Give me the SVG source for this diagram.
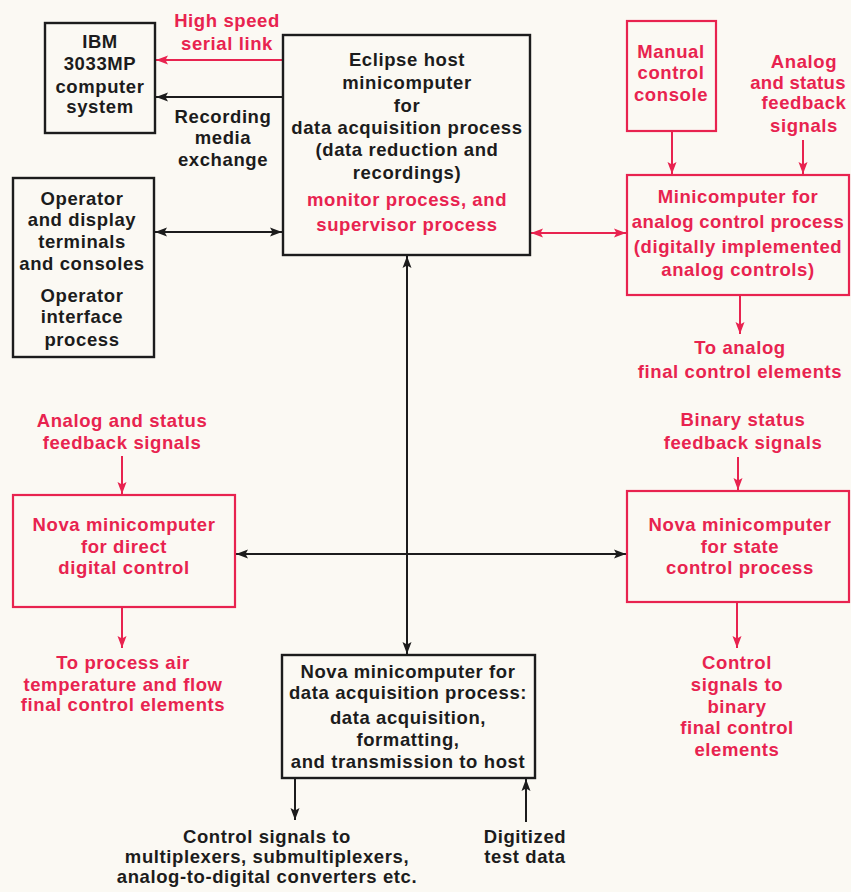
<svg xmlns="http://www.w3.org/2000/svg" width="851" height="892" viewBox="0 0 851 892">
<style>
text{font-family:"Liberation Sans",Arial,sans-serif;font-weight:bold;font-size:18.5px;letter-spacing:0.6px;text-anchor:middle}
.k{fill:#1c1c1c}
.r{fill:#e8234f}
.bk{fill:none;stroke:#1c1c1c;stroke-width:2.4}
.br{fill:none;stroke:#e8234f;stroke-width:2.2}
.ck{fill:none;stroke:#1c1c1c;stroke-width:2}
.cr{fill:none;stroke:#e8234f;stroke-width:2}
</style>
<defs>
<marker id="ak" markerUnits="userSpaceOnUse" markerWidth="13" markerHeight="10" refX="12" refY="5" orient="auto-start-reverse"><path d="M0,0.5 L12,5 L0,9.5 L2.5,5 z" fill="#1c1c1c"/></marker>
<marker id="ar" markerUnits="userSpaceOnUse" markerWidth="13" markerHeight="10" refX="12" refY="5" orient="auto-start-reverse"><path d="M0,0.5 L12,5 L0,9.5 L2.5,5 z" fill="#e8234f"/></marker>
</defs>
<rect width="851" height="892" fill="#fbf9f3"/>

<g id="connectors">
<line class="cr" x1="283" y1="60" x2="156" y2="60" marker-end="url(#ar)"/>
<line class="ck" x1="283" y1="97" x2="156" y2="97" marker-end="url(#ak)"/>
<line class="ck" x1="155" y1="232" x2="282" y2="232" marker-start="url(#ak)" marker-end="url(#ak)"/>
<line class="cr" x1="531" y1="233" x2="626" y2="233" marker-start="url(#ar)" marker-end="url(#ar)"/>
<line class="cr" x1="672" y1="132" x2="672" y2="174" marker-end="url(#ar)"/>
<line class="cr" x1="803" y1="140" x2="803" y2="174" marker-end="url(#ar)"/>
<line class="cr" x1="740" y1="296" x2="740" y2="334" marker-end="url(#ar)"/>
<line class="ck" x1="407" y1="256" x2="407" y2="654" marker-start="url(#ak)" marker-end="url(#ak)"/>
<line class="ck" x1="236" y1="554" x2="626" y2="554" marker-start="url(#ak)" marker-end="url(#ak)"/>
<line class="cr" x1="122" y1="456" x2="122" y2="494" marker-end="url(#ar)"/>
<line class="cr" x1="122" y1="608" x2="122" y2="648" marker-end="url(#ar)"/>
<line class="cr" x1="738" y1="457" x2="738" y2="490" marker-end="url(#ar)"/>
<line class="cr" x1="737" y1="603" x2="737" y2="648" marker-end="url(#ar)"/>
<line class="ck" x1="295" y1="779" x2="295" y2="820" marker-end="url(#ak)"/>
<line class="ck" x1="526" y1="822" x2="526" y2="779" marker-end="url(#ak)"/>
</g>

<g id="labels">
<text class="r" x="227" y="27">High speed</text>
<text class="r" x="227" y="50">serial link</text>
<text class="k" x="223" y="123">Recording</text>
<text class="k" x="223" y="144">media</text>
<text class="k" x="223" y="166">exchange</text>
<text class="r" x="804" y="68">Analog</text>
<text class="r" x="798" y="89" style="letter-spacing:0.3px">and status</text>
<text class="r" x="804" y="109">feedback</text>
<text class="r" x="804" y="132">signals</text>
<text class="r" x="740" y="354">To analog</text>
<text class="r" x="740" y="378">final control elements</text>
<text class="r" x="122" y="427">Analog and status</text>
<text class="r" x="122" y="449">feedback signals</text>
<text class="r" x="123" y="669">To process air</text>
<text class="r" x="123" y="691">temperature and flow</text>
<text class="r" x="123" y="711">final control elements</text>
<text class="r" x="743" y="426">Binary status</text>
<text class="r" x="743" y="449">feedback signals</text>
<text class="r" x="737" y="669">Control</text>
<text class="r" x="737" y="691">signals to</text>
<text class="r" x="737" y="713">binary</text>
<text class="r" x="737" y="734">final control</text>
<text class="r" x="737" y="756">elements</text>
<text class="k" x="267" y="843">Control signals to</text>
<text class="k" x="267" y="863">multiplexers, submultiplexers,</text>
<text class="k" x="267" y="883">analog-to-digital converters etc.</text>
<text class="k" x="525" y="843">Digitized</text>
<text class="k" x="525" y="863">test data</text>
</g>

<g id="ibm">
<rect class="bk" x="45" y="23" width="110" height="110"/>
<text class="k" x="100" y="48">IBM</text>
<text class="k" x="100" y="70">3033MP</text>
<text class="k" x="100" y="93">computer</text>
<text class="k" x="100" y="113">system</text>
</g>

<g id="eclipse">
<rect class="bk" x="283" y="35" width="247" height="220"/>
<text class="k" x="407" y="66">Eclipse host</text>
<text class="k" x="407" y="89">minicomputer</text>
<text class="k" x="407" y="112">for</text>
<text class="k" x="407" y="134">data acquisition process</text>
<text class="k" x="407" y="156">(data reduction and</text>
<text class="k" x="407" y="179">recordings)</text>
<text class="r" x="407" y="206">monitor process, and</text>
<text class="r" x="407" y="231">supervisor process</text>
</g>

<g id="operator">
<rect class="bk" x="13" y="178" width="141" height="179"/>
<text class="k" x="82" y="205">Operator</text>
<text class="k" x="82" y="226">and display</text>
<text class="k" x="82" y="248">terminals</text>
<text class="k" x="82" y="270">and consoles</text>
<text class="k" x="82" y="302">Operator</text>
<text class="k" x="82" y="323">interface</text>
<text class="k" x="82" y="346">process</text>
</g>

<g id="manual">
<rect class="br" x="627" y="21" width="89" height="110"/>
<text class="r" x="671" y="58">Manual</text>
<text class="r" x="671" y="79">control</text>
<text class="r" x="671" y="101">console</text>
</g>

<g id="analog">
<rect class="br" x="627" y="175" width="222" height="120"/>
<text class="r" x="738" y="203">Minicomputer for</text>
<text class="r" x="738" y="228" style="letter-spacing:0.4px">analog control process</text>
<text class="r" x="738" y="253">(digitally implemented</text>
<text class="r" x="738" y="276">analog controls)</text>
</g>

<g id="ddc">
<rect class="br" x="13" y="495" width="222" height="112"/>
<text class="r" x="124" y="531">Nova minicomputer</text>
<text class="r" x="124" y="553">for direct</text>
<text class="r" x="124" y="574">digital control</text>
</g>

<g id="state">
<rect class="br" x="627" y="491" width="222" height="111"/>
<text class="r" x="740" y="531">Nova minicomputer</text>
<text class="r" x="740" y="553">for state</text>
<text class="r" x="740" y="574">control process</text>
</g>

<g id="nova-da">
<rect class="bk" x="282" y="655" width="253" height="123"/>
<text class="k" x="408" y="678">Nova minicomputer for</text>
<text class="k" x="408" y="699">data acquisition process:</text>
<text class="k" x="408" y="724">data acquisition,</text>
<text class="k" x="408" y="746">formatting,</text>
<text class="k" x="408" y="768">and transmission to host</text>
</g>
</svg>
